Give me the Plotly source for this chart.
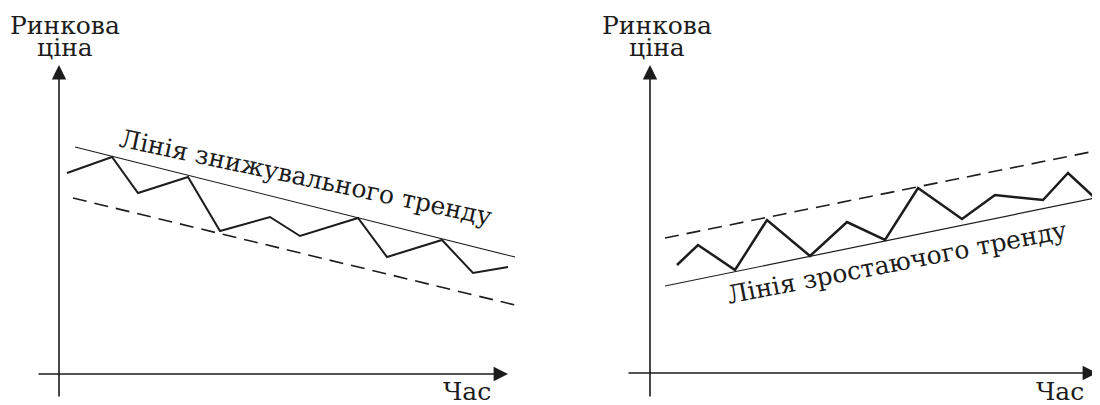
import plotly.graph_objects as go

# ---------------- data (schematic units: time t, price p) ----------------
# Left panel: downward trend
down_time = [0.8, 5.3, 7.9, 12.9, 16.1, 21.1, 24.1, 29.9, 32.8, 38.3, 41.4, 44.9]
down_price = [20.1, 21.7, 18.1, 19.7, 14.3, 15.7, 13.8, 15.6, 11.7, 13.4, 10.1, 10.7]
down_trend_time = [1.6, 45.6]
down_trend_price = [22.7, 11.7]
down_channel_time = [1.4, 45.6]
down_channel_price = [17.6, 6.9]

# Right panel: upward trend
up_time = [2.7, 4.8, 8.5, 11.7, 16.0, 19.7, 23.5, 26.8, 31.2, 34.5, 39.3, 41.8, 44.5, 45.6]
up_price = [10.8, 12.8, 10.3, 15.3, 11.7, 15.1, 13.3, 18.5, 15.4, 17.8, 17.3, 20.0, 17.5, 20.6]
up_trend_time = [1.5, 45.0]
up_trend_price = [8.7, 17.6]
up_channel_time = [1.5, 45.0]
up_channel_price = [13.5, 22.3]

# axis extents (start, tip)
left_x_axis = [-2.2, 44.9]
left_y_axis = [-2.4, 30.9]
right_x_axis = [-2.3, 44.7]
right_y_axis = [-2.5, 30.8]

y_title_1 = "Ринкова"
y_title_2 = "ціна"
x_title = "Час"
down_label = "Лінія знижувального тренду"
up_label = "Лінія зростаючого тренду"

INK = "#1c1c1c"
FONT = "DejaVu Serif"

fig = go.Figure()

def add_panel(xa, ya, zz_t, zz_p, tr_t, tr_p, ch_t, ch_p, zz_w):
    fig.add_trace(go.Scatter(x=tr_t, y=tr_p, mode="lines", xaxis=xa, yaxis=ya,
                             line=dict(color=INK, width=1.2), showlegend=False, hoverinfo="skip"))
    fig.add_trace(go.Scatter(x=ch_t, y=ch_p, mode="lines", xaxis=xa, yaxis=ya,
                             line=dict(color=INK, width=1.6, dash="14px,8px"), showlegend=False, hoverinfo="skip"))
    fig.add_trace(go.Scatter(x=zz_t, y=zz_p, mode="lines", xaxis=xa, yaxis=ya,
                             line=dict(color=INK, width=zz_w), showlegend=False, hoverinfo="skip"))

add_panel("x", "y", down_time, down_price, down_trend_time, down_trend_price,
          down_channel_time, down_channel_price, 2.0)
add_panel("x2", "y2", up_time, up_price, up_trend_time, up_trend_price,
          up_channel_time, up_channel_price, 2.5)

annotations = []

def arrow(xref, yref, x0, y0, x1, y1):
    annotations.append(dict(x=x1, y=y1, ax=x0, ay=y0, xref=xref, yref=yref,
                            axref=xref, ayref=yref, text="", showarrow=True,
                            arrowhead=2, arrowsize=1.8, arrowwidth=1.6, arrowcolor=INK,
                            standoff=0, startstandoff=0))

def text(xref, yref, x, y, s, size, angle=0):
    annotations.append(dict(x=x, y=y, xref=xref, yref=yref, text=s, showarrow=False,
                            textangle=angle, xanchor="center", yanchor="middle",
                            font=dict(family=FONT, size=size, color=INK)))

# left panel axes
arrow("x", "y", left_x_axis[0], 0, left_x_axis[1], 0)
arrow("x", "y", 0, left_y_axis[0], 0, left_y_axis[1])
# right panel axes
arrow("x2", "y2", right_x_axis[0], 0, right_x_axis[1], 0)
arrow("x2", "y2", 0, right_y_axis[0], 0, right_y_axis[1])

# axis titles (two lines in one text, tight line spacing)
FS = 25
big = '<span style="font-size:25px">{}</span>'
y_title = big.format(y_title_1) + "<br>" + big.format(y_title_2)
text("x", "y", 0.55, 33.8, y_title, 17)
text("x2", "y2", 0.65, 33.7, y_title, 17)
text("x", "y", 40.8, -1.7, x_title, FS)
text("x2", "y2", 41.0, -1.8, x_title, FS)

# trend labels
text("x", "y", 24.7, 19.7, down_label, FS, angle=12)
text("x2", "y2", 24.7, 11.1, up_label, FS, angle=-11)

ax_common = dict(visible=False, showgrid=False, zeroline=False, fixedrange=True)
fig.update_layout(
    width=1092, height=397,
    margin=dict(l=0, r=0, t=0, b=0),
    paper_bgcolor="white", plot_bgcolor="white",
    xaxis=dict(domain=[0, 0.5], range=[-5.1, 49.5], **ax_common),
    yaxis=dict(domain=[0, 1], range=[-3.1, 36.6], **ax_common),
    xaxis2=dict(domain=[0.5, 1], range=[-9.6, 45.0], anchor="y2", **ax_common),
    yaxis2=dict(domain=[0, 1], range=[-3.2, 36.5], anchor="x2", **ax_common),
    annotations=annotations,
    showlegend=False,
)

fig.write_html("out.html")
